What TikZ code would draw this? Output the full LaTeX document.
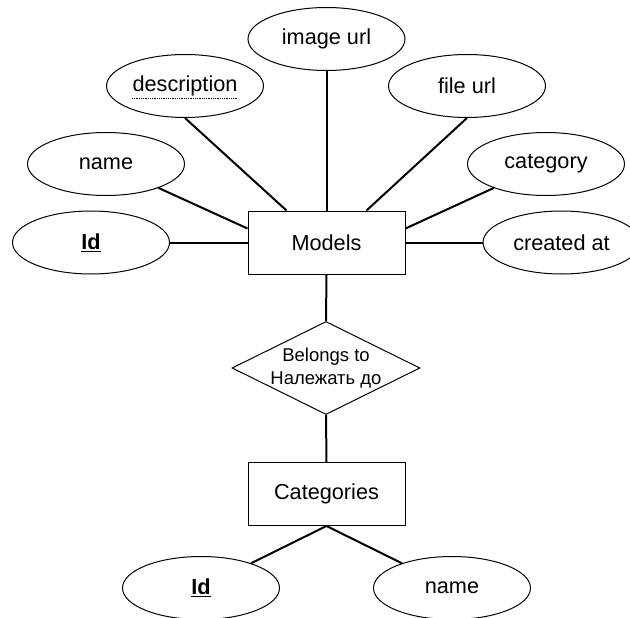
\documentclass[tikz,border=0pt]{standalone}
\usepackage{fontspec}
\setmainfont{Liberation Sans}
\usetikzlibrary{shapes.geometric}
\tikzset{
  entity/.style={draw, line width=1pt, minimum width=157pt,
                 minimum height=63pt, inner sep=0pt,
                 font=\fontsize{21.7}{26}\selectfont},
  attr/.style={draw, ellipse, line width=1pt, minimum width=157pt,
               minimum height=63pt, inner sep=0pt,
               font=\fontsize{21.7}{26}\selectfont},
  rel/.style={draw, diamond, line width=1pt, minimum width=188pt,
              minimum height=93pt, inner sep=0pt},
  link/.style={line width=2pt},
}
\begin{document}
\begin{tikzpicture}[x=1pt,y=-1pt]
    \fill[white] (0,0) rectangle (630,618);
    \useasboundingbox (0,0) rectangle (630,618);
    % entities
    \node[entity] (models) at (326.5,242.5) {Models};
    \node[entity] (categories) at (326.5,494) {Categories};
    \node[rel, label={[align=center, inner sep=0pt,
          font=\fontsize{18.5}{23}\selectfont]center:Belongs to\\Належать до}]
          (belongs) at (326,368) {};
    % attributes of Models
    \node[attr] (imageurl) at (326.5,39) {image url};
    \node[attr] (desc) at (185,86) {description};
    \draw[densely dotted, line width=0.8pt]
          ([xshift=-53pt,yshift=-12pt]desc.center)
          -- ([xshift=52pt,yshift=-12pt]desc.center);
    \node[attr] (fileurl) at (467,86) {file url};
    \node[attr] (name) at (106,164) {name};
    \node[attr] (category) at (546,164) {category};
    \node[attr] (id) at (91,242.5) {\underline{\textbf{Id}}};
    \node[attr] (createdat) at (561.5,242.5) {created at};
    % attributes of Categories
    \node[attr] (catid) at (201,588) {\underline{\textbf{Id}}};
    \node[attr] (catname) at (452,588) {name};
    % links
    \draw[link] (imageurl.south) -- (models.north);
    \draw[link] (desc.south) -- ([xshift=-40pt]models.north);
    \draw[link] (fileurl.south) -- ([xshift=40pt]models.north);
    \draw[link] (name) -- ([yshift=14pt]models.west);
    \draw[link] (category) -- ([yshift=14pt]models.east);
    \draw[link] (id.east) -- (models.west);
    \draw[link] (createdat.west) -- (models.east);
    \draw[link] (models.south) -- (belongs.north);
    \draw[link] (belongs.south) -- (categories.north);
    \draw[link] (categories.south) -- (catid);
    \draw[link] (categories.south) -- (catname);
\end{tikzpicture}
\end{document}
